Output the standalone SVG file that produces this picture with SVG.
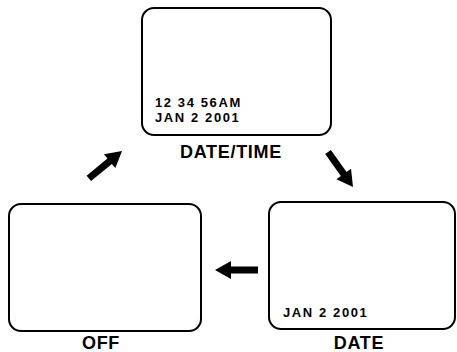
<svg xmlns="http://www.w3.org/2000/svg" width="457" height="352" viewBox="0 0 457 352">
<style>
.screen{fill:#fff;stroke:#000;stroke-width:2}
.small{font-family:"Liberation Sans",Arial,sans-serif;font-weight:bold;font-size:13px;letter-spacing:1.6px;fill:#000}
.label{font-family:"Liberation Sans",Arial,sans-serif;font-weight:bold;font-size:18px;letter-spacing:0.7px;fill:#000;text-anchor:middle}
</style>
<defs>
<path id="arrow" d="M0,0 L-16,-9 L-16,-3.5 L-43,-3.5 L-43,3.5 L-16,3.5 L-16,9 Z" fill="#000"/>
</defs>
<rect width="457" height="352" fill="#fff"/>
<g id="datetime">
<rect class="screen" x="142" y="8" width="189" height="127" rx="12"/>
<text class="small" x="155" y="107">12 34 56AM</text>
<text class="small" x="155" y="122">JAN 2 2001</text>
<text class="label" x="231" y="158">DATE/TIME</text>
</g>
<g id="off">
<rect class="screen" x="9" y="204" width="192" height="127" rx="12"/>
<text class="label" x="101" y="349">OFF</text>
</g>
<g id="date">
<rect class="screen" x="269" y="202" width="186" height="127" rx="12"/>
<text class="small" x="283" y="316.5">JAN 2 2001</text>
<text class="label" x="359" y="349">DATE</text>
</g>
<g id="connectors">
<use href="#arrow" transform="translate(122,151) rotate(-39.5)"/>
<use href="#arrow" transform="translate(353,187) rotate(54.5)"/>
<use href="#arrow" transform="translate(215,270) rotate(180)"/>
</g>
</svg>
